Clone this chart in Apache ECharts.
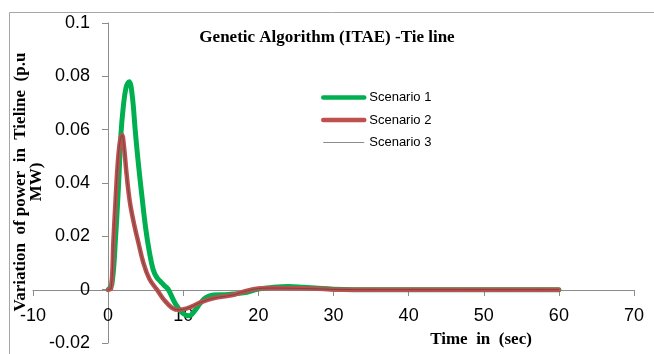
<!DOCTYPE html>
<html>
<head>
<meta charset="utf-8">
<script src="https://cdn.jsdelivr.net/npm/echarts@6/dist/echarts.min.js"></script>
<style>html,body{margin:0;padding:0;background:#fff}#c{width:654px;height:354px}</style>
</head>
<body>
<div id="c"></div>
<script>
// Scenario 1 (time, value)
const s1Time  = [0, 0.5, 1.0, 1.4, 1.7, 2.0, 2.4, 2.8, 3.2, 3.6, 4.0, 4.5, 5.0, 5.5, 6.0, 6.5, 7.0, 7.5, 8.0, 9.0, 10.0, 10.8, 11.5, 12.3, 13.0, 14.0, 16.0, 18.0, 20.0, 22.0, 24.0, 26.0, 28.0, 30.0, 35.0, 40.0, 50.0, 60.0];
const s1Value = [0, 0.002, 0.02, 0.04, 0.058, 0.068, 0.076, 0.078, 0.073, 0.060, 0.048, 0.035, 0.023, 0.014, 0.0075, 0.0045, 0.003, 0.0015, 0.0001, -0.0055, -0.009, -0.0098, -0.008, -0.005, -0.003, -0.002, -0.0018, -0.0012, 0.0002, 0.0009, 0.0012, 0.0009, 0.0005, 0.0002, 0, 0, 0, 0];
// Scenario 2
const s2Time  = [0, 0.4, 0.7, 1.0, 1.3, 1.6, 1.85, 2.1, 2.4, 2.7, 3.0, 3.5, 4.0, 4.7, 5.5, 6.5, 7.5, 8.5, 9.3, 10.5, 12.3, 14.0, 16.6, 18.0, 20.0, 22.0, 25.0, 28.0, 30.0, 35.0, 40.0, 50.0, 60.0];
const s2Value = [0, 0.0005, 0.018, 0.034, 0.048, 0.056, 0.058, 0.054, 0.045, 0.037, 0.031, 0.024, 0.018, 0.010, 0.004, 0, -0.004, -0.0068, -0.0075, -0.007, -0.0048, -0.0032, -0.002, -0.0008, 0.0004, 0.0006, 0.0005, 0.0003, 0.0001, 0, 0, 0, 0];
// Scenario 3
const s3Time  = [0, 0.4, 0.7, 1.0, 1.3, 1.6, 1.85, 2.1, 2.4, 2.7, 3.0, 3.5, 4.0, 4.7, 5.5, 6.5, 7.5, 8.5, 9.3, 10.5, 12.3, 14.0, 16.6, 18.0, 20.0, 22.0, 25.0, 28.0, 30.0, 35.0, 40.0, 50.0, 60.0];
const s3Value = [0, 0.0005, 0.018, 0.034, 0.048, 0.056, 0.058, 0.054, 0.045, 0.037, 0.031, 0.024, 0.018, 0.010, 0.004, 0, -0.004, -0.0068, -0.0075, -0.007, -0.0048, -0.0032, -0.002, -0.0008, 0.0004, 0.0006, 0.0005, 0.0003, 0.0001, 0, 0, 0, 0];

const seriesNames = ['Scenario 1', 'Scenario 2', 'Scenario 3'];
const titleText = 'Genetic Algorithm (ITAE) -Tie line';
const xName = 'Time  in  (sec)';
const yName = 'Variation  of power  in  Tieline  (p.u\nMW)';

const zip = (a, b) => a.map((t, i) => [t, b[i]]);
const serif = 'Liberation Serif, Times New Roman, serif';
const sans = 'Liberation Sans, Arial, sans-serif';
const axisGray = '#8c8c8c';

const chart = echarts.init(document.getElementById('c'));
chart.setOption({
  animation: false,
  backgroundColor: '#fff',
  title: {
    text: titleText,
    left: 'center',
    top: 24,
    textStyle: { fontFamily: serif, fontWeight: 'bold', fontSize: 17, color: '#000' }
  },
  legend: {
    orient: 'vertical',
    left: 316,
    top: 86,
    itemWidth: 41,
    itemHeight: 14,
    itemGap: 9.5,
    textStyle: { fontFamily: sans, fontSize: 13, color: '#000' },
    data: [
      { name: seriesNames[0], itemStyle: { opacity: 0 }, lineStyle: { width: 4.5, color: '#00b050', cap: 'round' } },
      { name: seriesNames[1], itemStyle: { opacity: 0 }, lineStyle: { width: 4.5, color: '#c0504d', cap: 'round' } },
      { name: seriesNames[2], itemStyle: { opacity: 0 }, lineStyle: { width: 1, color: '#8a8a8a' } }
    ]
  },
  grid: { left: 33, right: 20, top: 23, bottom: 11, containLabel: false, outerBoundsMode: 'none' },
  xAxis: {
    type: 'value',
    min: -10, max: 70, interval: 10,
    position: 'bottom', offset: -53,
    axisLine: { onZero: false, lineStyle: { color: axisGray, width: 1 } },
    axisTick: { show: true, length: 6, lineStyle: { color: axisGray } },
    axisLabel: { margin: 17, fontFamily: sans, fontSize: 18, color: '#000' },
    splitLine: { show: false }
  },
  yAxis: {
    type: 'value',
    min: -0.02, max: 0.1, interval: 0.02,
    position: 'left', offset: -75,
    axisLine: { show: true, onZero: false, lineStyle: { color: axisGray, width: 1 } },
    axisTick: { show: true, length: 6, lineStyle: { color: axisGray } },
    axisLabel: { margin: 18, fontFamily: sans, fontSize: 18, color: '#000' },
    splitLine: { show: false }
  },
  graphic: [
    {
      type: 'rect', left: 7, top: 10, silent: true, z: -10,
      shape: { width: 700, height: 400 },
      style: { fill: 'none', stroke: '#a6a6a6', lineWidth: 1 }
    },
    {
      type: 'text', x: 29, y: 182, rotation: Math.PI / 2,
      style: { text: yName, fontFamily: serif, fontWeight: 'bold', fontSize: 17, lineHeight: 16,
               fill: '#000', align: 'center', verticalAlign: 'middle' }
    },
    {
      type: 'text', x: 481, y: 340,
      style: { text: xName, fontFamily: serif, fontWeight: 'bold', fontSize: 17,
               fill: '#000', align: 'center', verticalAlign: 'middle' }
    }
  ],
  series: [
    {
      name: seriesNames[0], type: 'line', data: zip(s1Time, s1Value),
      showSymbol: false, symbol: 'none', smooth: 0.4,
      lineStyle: { color: '#00b050', width: 5, cap: 'round' },
      itemStyle: { color: '#00b050' }
    },
    {
      name: seriesNames[1], type: 'line', data: zip(s2Time, s2Value),
      showSymbol: false, symbol: 'none', smooth: 0.4,
      lineStyle: { color: '#c0504d', width: 4.5, cap: 'round' },
      itemStyle: { color: '#c0504d' }
    },
    {
      name: seriesNames[2], type: 'line', data: zip(s3Time, s3Value),
      showSymbol: false, symbol: 'none', smooth: 0.4,
      lineStyle: { color: '#6b4a48', width: 1 },
      itemStyle: { color: '#808080' }
    }
  ]
});
</script>
</body>
</html>
